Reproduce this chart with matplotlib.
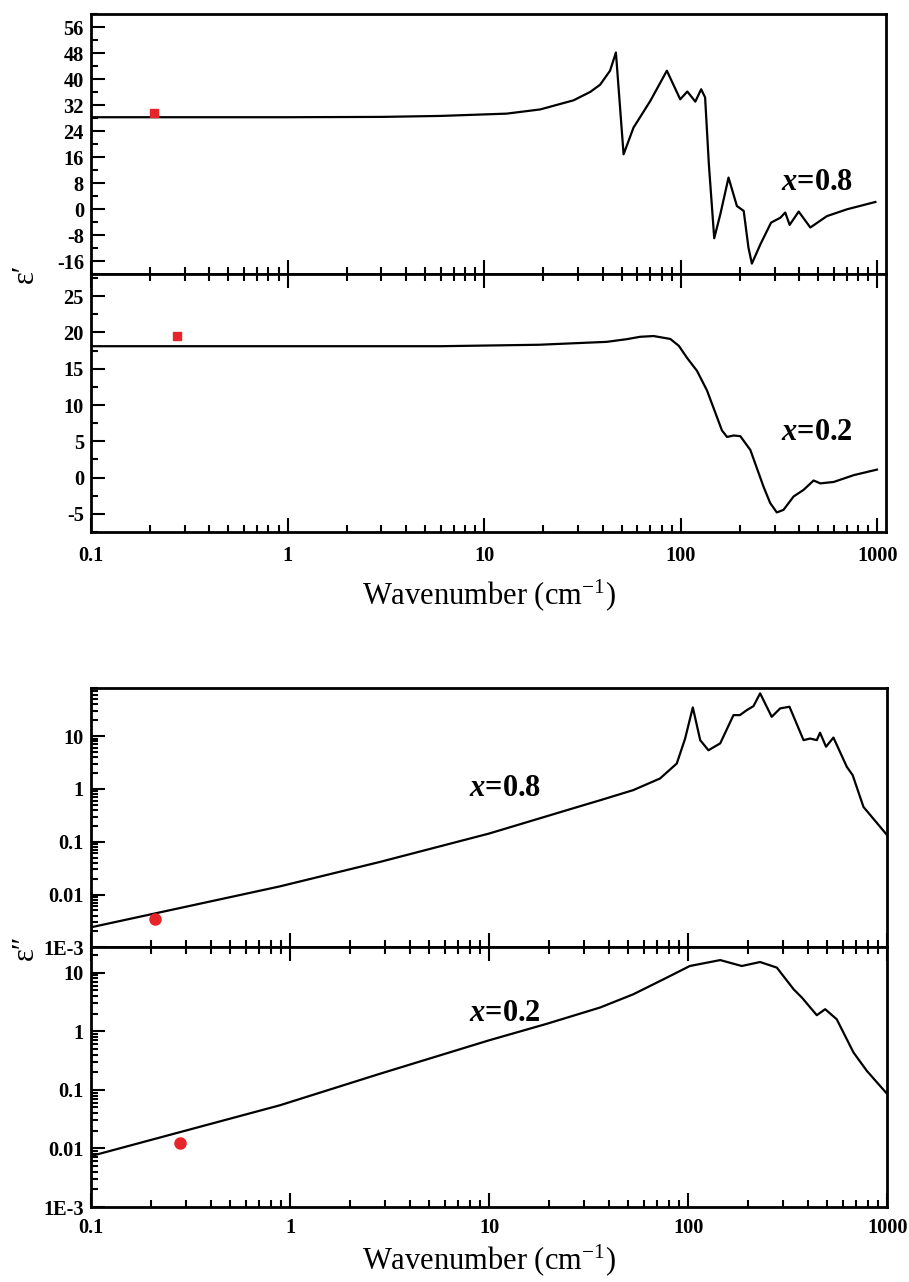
import matplotlib
matplotlib.use("Agg")
import matplotlib.pyplot as plt
from matplotlib.ticker import MultipleLocator, LogLocator, FixedLocator, FixedFormatter, NullFormatter

plt.rcParams['font.family'] = ['Liberation Serif', 'DejaVu Serif']
plt.rcParams['axes.unicode_minus'] = False
plt.rcParams['mathtext.fontset'] = 'custom'
plt.rcParams['mathtext.rm'] = 'Liberation Serif'
plt.rcParams['mathtext.it'] = 'Liberation Serif:italic'
plt.rcParams['mathtext.bf'] = 'Liberation Serif:bold'
plt.rcParams['mathtext.bfit'] = 'Liberation Serif:italic:bold'

# eps' para x=0.8
w_re08 = [0.1, 1, 3, 6, 13, 19.3, 28.5, 34.7, 38.9, 43.7, 46.8, 51.2, 57.5, 70, 85, 99.4, 108, 118.6, 127,
          133, 139, 148, 159, 175, 193, 209, 221, 230, 254, 288, 321, 340, 358, 398, 456, 554, 701, 977]
e_re08 = [28.3, 28.3, 28.4, 28.7, 29.4, 30.7, 33.5, 36.1, 38.3, 42.6, 48.2, 16.9, 25.1, 33.3, 42.6, 33.8,
          36.2, 33.1, 36.9, 34.4, 13.8, -8.9, -1.5, 9.75, 1.0, -0.5, -11.8, -16.7, -10.8, -4.1, -2.6,
          -1.0, -4.8, -0.7, -5.6, -2.1, 0.0, 2.25]

# eps' para x=0.2
w_re02 = [0.1, 1, 6, 19, 42, 53.2, 62.2, 72.8, 88.5, 97.8, 107.6, 121, 136, 153, 162, 172, 186, 201, 226,
          264, 285, 308, 333, 375, 421, 474, 513, 600, 759, 995]
e_re02 = [18.1, 18.1, 18.1, 18.3, 18.7, 19.07, 19.4, 19.5, 19.1, 18.15, 16.5, 14.7, 12.0, 8.3, 6.5, 5.6,
          5.8, 5.7, 3.8, -1.3, -3.5, -4.8, -4.45, -2.6, -1.7, -0.4, -0.8, -0.6, 0.34, 1.1]

# eps'' para x=0.8
w_im08 = [0.1, 0.89, 2.83, 10, 28.6, 36.1, 53, 72.3, 87.7, 96.6, 105.6, 115, 126.5, 145, 169, 182, 197,
          213, 230, 263, 290, 323, 380, 410, 443, 460, 493, 537, 627, 671, 760, 1000]
e_im08 = [0.0024, 0.0143, 0.0415, 0.143, 0.47, 0.61, 0.95, 1.58, 3.03, 9.0, 35, 8.4, 5.4, 7.3, 25, 25,
          31, 37, 64.6, 23.2, 33.5, 36, 8.4, 9.0, 8.4, 11.6, 6.3, 9.4, 2.62, 1.82, 0.457, 0.133]

# eps'' para x=0.2
w_im02 = [0.1, 0.89, 2.83, 10, 19.5, 36.1, 53, 78, 102, 145, 186, 230, 279, 339, 373, 443, 488, 558,
          677, 791, 1000]
e_im02 = [0.0074, 0.0545, 0.188, 0.70, 1.34, 2.54, 4.27, 8.2, 13.0, 16.4, 13.0, 15.2, 12.2, 5.2, 3.75,
          1.88, 2.38, 1.6, 0.435, 0.21, 0.085]

# puntos experimentales (rojos)
exp_re_w = [0.209, 0.274]
exp_re_e = [29.5, 19.5]
exp_im_w = [0.21, 0.28]
exp_im_e = [0.0035, 0.0122]

xticks = [0.1, 1, 10, 100, 1000]
xlabels = ['0.1', '1', '10', '100', '1000']
logticks = [1e-3, 0.01, 0.1, 1, 10]
loglabels = ['1E-3', '0.01', '0.1', '1', '10']

fig = plt.figure(figsize=(9.09, 12.82), dpi=100)
ax1 = fig.add_axes([0.100, 0.786, 0.875, 0.203])
ax2 = fig.add_axes([0.100, 0.585, 0.875, 0.201])
ax3 = fig.add_axes([0.100, 0.261, 0.876, 0.202])
ax4 = fig.add_axes([0.100, 0.0585, 0.876, 0.2025])

TICK_FS = 14.7
red = '#e8242b'


def style(ax, show_x, top_ticks):
    ax.set_xscale('log')
    for s in ax.spines.values():
        s.set_linewidth(2)
    ax.tick_params(which='both', direction='in', top=top_ticks, right=False, width=1.5)
    ax.tick_params(which='major', length=10)
    ax.tick_params(which='minor', length=5)
    ax.xaxis.set_major_locator(FixedLocator(xticks))
    ax.xaxis.set_minor_locator(LogLocator(base=10, subs=range(2, 10), numticks=20))
    ax.xaxis.set_minor_formatter(NullFormatter())
    if show_x:
        ax.xaxis.set_major_formatter(FixedFormatter(xlabels))
    else:
        ax.xaxis.set_major_formatter(NullFormatter())
    ax.tick_params(axis='x', pad=10)
    ax.tick_params(axis='y', pad=5)


# Panel superior: eps'
ax1.plot(w_re08, e_re08, color='black', lw=1.6)
ax1.plot(exp_re_w[0], exp_re_e[0], 's', color=red, ms=6)
ax1.set_xlim(0.1, 1110)
ax1.set_ylim(-20, 60)
ax1.yaxis.set_major_locator(FixedLocator([-16, -8, 0, 8, 16, 24, 32, 40, 48, 56]))
ax1.yaxis.set_minor_locator(MultipleLocator(4))
style(ax1, False, False)
ax1.text(0.913, 0.354, r'$\mathbfit{x}$=0.8', transform=ax1.transAxes, ha='center', va='center',
         fontsize=22, fontweight='bold')

ax2.plot(w_re02, e_re02, color='black', lw=1.6)
ax2.plot(exp_re_w[1], exp_re_e[1], 's', color=red, ms=6)
ax2.set_xlim(0.1, 1110)
ax2.set_ylim(-7.5, 28)
ax2.yaxis.set_major_locator(FixedLocator([-5, 0, 5, 10, 15, 20, 25]))
ax2.yaxis.set_minor_locator(MultipleLocator(2.5))
style(ax2, True, True)
ax2.text(0.913, 0.386, r'$\mathbfit{x}$=0.2', transform=ax2.transAxes, ha='center', va='center',
         fontsize=22, fontweight='bold')
ax2.set_xlabel(r'Wavenumber (cm$^{\mathrm{-1}}$)', fontsize=22, labelpad=8)

# Panel inferior: eps''
ax3.plot(w_im08, e_im08, color='black', lw=1.6)
ax3.plot(exp_im_w[0], exp_im_e[0], 'o', color=red, ms=8)
ax3.set_yscale('log')
ax3.set_xlim(0.1, 1000)
ax3.set_ylim(1e-3, 80)
ax3.text(0.52, 0.614, r'$\mathbfit{x}$=0.8', transform=ax3.transAxes, ha='center', va='center',
         fontsize=22, fontweight='bold')

ax4.plot(w_im02, e_im02, color='black', lw=1.6)
ax4.plot(exp_im_w[1], exp_im_e[1], 'o', color=red, ms=8)
ax4.set_yscale('log')
ax4.set_xlim(0.1, 1000)
ax4.set_ylim(1e-3, 27)
ax4.text(0.52, 0.746, r'$\mathbfit{x}$=0.2', transform=ax4.transAxes, ha='center', va='center',
         fontsize=22, fontweight='bold')
ax4.set_xlabel(r'Wavenumber (cm$^{\mathrm{-1}}$)', fontsize=22, labelpad=3)

for ax in (ax3, ax4):
    ax.yaxis.set_major_locator(FixedLocator(logticks))
    ax.yaxis.set_major_formatter(FixedFormatter(loglabels))
    ax.yaxis.set_minor_locator(LogLocator(base=10, subs=range(2, 10), numticks=20))
    ax.yaxis.set_minor_formatter(NullFormatter())
style(ax3, False, False)
style(ax4, True, True)
ax4.tick_params(axis='x', pad=8)

for ax in (ax1, ax2, ax3, ax4):
    for lab in ax.get_xticklabels() + ax.get_yticklabels():
        lab.set_fontsize(TICK_FS)
        lab.set_fontweight('bold')

fig.text(0.028, 1 - 273 / 1282, '\u03b5\u2032', rotation=90, ha='center', va='center', fontsize=22)
fig.text(0.028, 1 - 947 / 1282, '\u03b5\u2033', rotation=90, ha='center', va='center', fontsize=22)

fig.savefig('out.png', dpi=100)
